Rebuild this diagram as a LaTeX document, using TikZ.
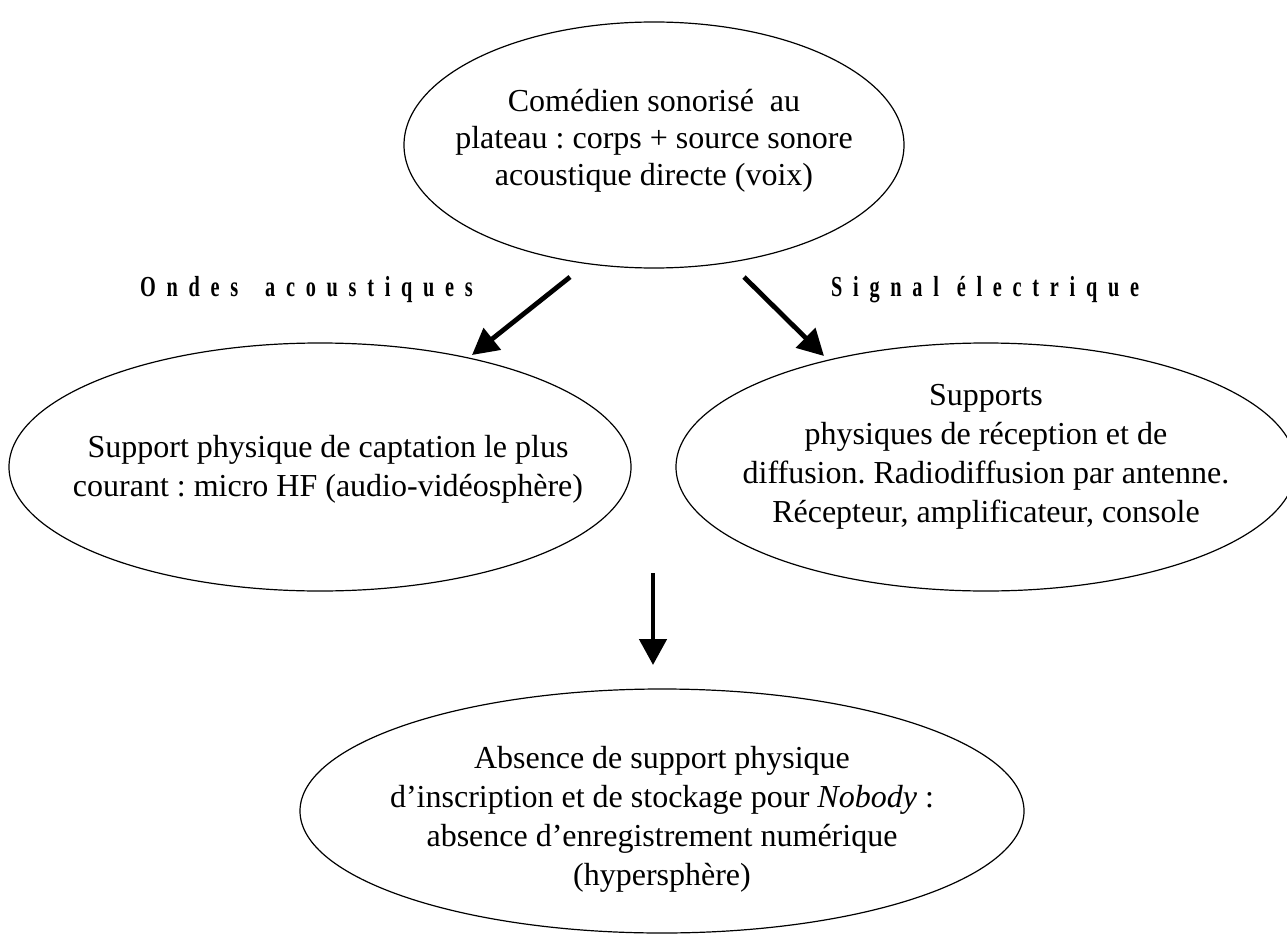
\documentclass[tikz,border=0pt]{standalone}
\usepackage{fontspec}
\setmainfont[Ligatures={TeX,NoCommon}]{Liberation Serif}
\newfontfamily\lblfont[LetterSpace=37,FakeStretch=0.7,Ligatures={TeX,NoCommon}]{Liberation Serif}
\usetikzlibrary{shapes.geometric,arrows.meta}
\frenchspacing
\begin{document}
\begin{tikzpicture}[x=1pt,y=-1pt,
  oval/.style={draw, ellipse, line width=1.2pt, inner sep=0pt},
  txt/.style={align=center, font=\fontsize{32}{39}\selectfont, inner sep=0pt},
  lbl/.style={font=\lblfont\bfseries\fontsize{29}{30}\selectfont, inner sep=0pt},
  arr/.style={line width=4.8pt, -{Triangle[length=26pt,width=27pt]}}]
\useasboundingbox (0,0) rectangle (1287,936);
\clip (0,0) rectangle (1287,936);
\fill[white] (0,0) rectangle (1287,936);
% ellipses
\node[oval, minimum width=500pt, minimum height=246pt] (top) at (654,145) {};
\node[oval, minimum width=622pt, minimum height=248pt] (left) at (320,467) {};
\node[oval, minimum width=620pt, minimum height=248pt] (right) at (986,467) {};
\node[oval, minimum width=724pt, minimum height=244pt] (bottom) at (662,811) {};
% texts
\node[txt, font=\fontsize{32}{37}\selectfont] (toptext) at (654,141) {Comédien sonorisé\ \ au\\plateau : corps + source sonore\\acoustique directe (voix)};
\node[txt] (lefttext) at (328,469) {Support physique de captation le plus\\courant : micro HF (audio-vidéosphère)};
\node[txt] (righttext) at (986,457) {Supports\\physiques de réception et de\\diffusion. Radiodiffusion par antenne.\\Récepteur, amplificateur, console};
\node[txt] (bottomtext) at (662,819) {Absence de support physique\\d’inscription et de stockage pour \textit{Nobody} :\\absence d’enregistrement numérique\\(hypersphère)};
% labels
\node[lbl, anchor=west] (lab1) at (140,290) {Ondes\hspace{11pt} acoustiques};
\node[lbl, anchor=west] (lab2) at (831,290) {Signal\hspace{2pt} électrique};
% arrows
\coordinate (l1) at (570,277); \coordinate (l2) at (472,355);
\coordinate (r1) at (744,277); \coordinate (r2) at (824,356);
\coordinate (v1) at (653,573); \coordinate (v2) at (653,665);
\draw[arr] (l1) -- (l2);
\draw[arr] (r1) -- (r2);
\draw[arr] (v1) -- (v2);
\end{tikzpicture}
\end{document}
